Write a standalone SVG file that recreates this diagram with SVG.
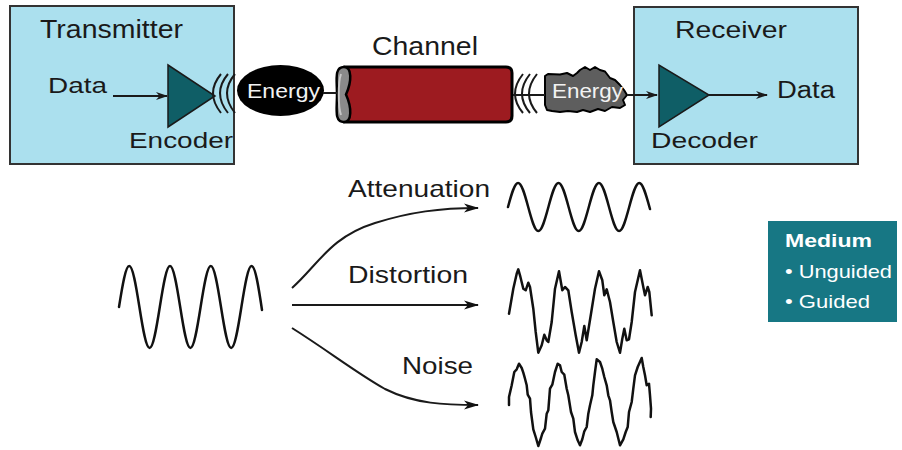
<svg xmlns="http://www.w3.org/2000/svg" width="902" height="450" viewBox="0 0 902 450">
  <defs>
    <style>
      .lbl { font-family: "Liberation Sans", Arial, sans-serif; fill: #1a1a1a; }
      .box { fill: #abe0ee; stroke: #333333; stroke-width: 2; }
      .amp { fill: #0f5e66; stroke: #1a1a1a; stroke-width: 1.5; }
      .wire { fill: none; stroke: #1a1a1a; stroke-width: 2; }
      .arc { fill: none; stroke: #1a1a1a; stroke-width: 2; }
      .wave { fill: none; stroke: #111111; stroke-width: 2.5; stroke-linejoin: round; stroke-linecap: round; }
      .energy { font-family: "Liberation Sans", Arial, sans-serif; fill: #f2f2f2; font-size: 21px; }
      .medium { font-family: "Liberation Sans", Arial, sans-serif; fill: #ffffff; font-size: 18.5px; }
    </style>
    <marker id="arrow" markerWidth="12" markerHeight="10" refX="11" refY="5" orient="auto" markerUnits="userSpaceOnUse">
      <path d="M0,1 L12,5 L0,9 L3.5,5 Z" fill="#1a1a1a"/>
    </marker>
    <marker id="arrowBig" markerWidth="15" markerHeight="10" refX="14" refY="5" orient="auto" markerUnits="userSpaceOnUse">
      <path d="M0,0.5 L15,5 L0,9.5 L4,5 Z" fill="#111111"/>
    </marker>
  </defs>

  <!-- transmitter -->
  <g id="transmitter">
    <rect class="box" x="10" y="6" width="224" height="158"/>
    <text class="lbl" x="40" y="38" font-size="25" textLength="143" lengthAdjust="spacingAndGlyphs">Transmitter</text>
    <text class="lbl" x="48" y="93" font-size="22" textLength="59" lengthAdjust="spacingAndGlyphs">Data</text>
  </g>

  <!-- receiver -->
  <g id="receiver">
    <rect class="box" x="634" y="7" width="224" height="157"/>
    <text class="lbl" x="675" y="38" font-size="24" textLength="112" lengthAdjust="spacingAndGlyphs">Receiver</text>
    <text class="lbl" x="777" y="98" font-size="23" textLength="58" lengthAdjust="spacingAndGlyphs">Data</text>
  </g>

  <g id="encoder">
    <polygon class="amp" points="168,65 168,127 215,96"/>
    <text class="lbl" x="129" y="148" font-size="22" textLength="104" lengthAdjust="spacingAndGlyphs">Encoder</text>
  </g>

  <!-- radiating waves after encoder -->
  <g id="tx-waves">
    <path class="arc" d="M221,74 Q205,93 221,113"/>
    <path class="arc" d="M228,74 Q212,93 228,113"/>
    <path class="arc" d="M235,74 Q219,93 235,113"/>
  </g>

  <g id="energy-out">
    <ellipse cx="280.5" cy="90.5" rx="43.5" ry="25.5" fill="#000000"/>
    <text class="energy" x="247" y="98" textLength="73" lengthAdjust="spacingAndGlyphs">Energy</text>
  </g>

  <!-- channel cylinder -->
  <g id="channel">
    <text class="lbl" x="372" y="55" font-size="25" textLength="106" lengthAdjust="spacingAndGlyphs">Channel</text>
    <path d="M344,67 L506,67 Q512,67 512,73 L512,116 Q512,122 506,122 L344,122 Z" fill="#9d1b20" stroke="#000000" stroke-width="3" stroke-linejoin="round"/>
    <path d="M344,67 C334,67 337,80 337,94.5 C337,109 334,122 344,122 C352,122 352,108 346,94.5 C352,81 352,67 344,67 Z" fill="#8a8a8a" stroke="#000000" stroke-width="2.5"/>
    <path d="M341,74 C338,82 338,107 341,115" fill="none" stroke="#c8c8c8" stroke-width="2"/>
  </g>

  <!-- radiating waves after channel -->
  <g id="rx-waves">
    <path class="arc" d="M523,74 Q507,94 523,113"/>
    <path class="arc" d="M530,74 Q514,94 530,113"/>
    <path class="arc" d="M537,74 Q521,94 537,113"/>
  </g>

  <g id="energy-in">
    <path d="M545,76 L548,74 L560,74.5 L567,73 L573,76 L577,73 L580,70 L585,67 L590,70 L595,67 L600,70 L605,71.5 L610,78 L615,80 L620,85 L624,90 L627,95 L623,100 L625,105 L620,108 L612,107 L605,111 L598,109 L590,112 L583,110 L577,112 L568,111 L560,112 L552,111 L547,110 L545,105 Z" fill="#5e5e5e" stroke="#000000" stroke-width="2" stroke-linejoin="round"/>
    <text class="energy" x="552" y="98" textLength="71" lengthAdjust="spacingAndGlyphs" fill="#e6e6e6">Energy</text>
  </g>

  <g id="decoder">
    <polygon class="amp" points="659,65 659,127 709,95"/>
    <text class="lbl" x="651" y="148" font-size="22" textLength="107" lengthAdjust="spacingAndGlyphs">Decoder</text>
  </g>

  <!-- original signal -->
  <g id="signal-in">
    <path class="wave" d="M119,307 C122.4,285.5 125.6,266 129.2,266 S136,285.5 139.4,307 S146,348 149.6,348 S156.4,328.5 159.8,307 S166.4,266 170,266 S176.8,285.5 180.2,307 S186.8,348 190.4,348 S197.2,328.5 200.6,307 S207.2,266 210.8,266 S217.6,285.5 221,307 S227.6,348 231.2,348 S238,328.5 241.4,307 S248,266 251.6,266 S258.4,285.5 262,310"/>
  </g>

  <!-- impairment labels -->
  <g id="impairments">
    <text class="lbl" x="348" y="197" font-size="24" textLength="142" lengthAdjust="spacingAndGlyphs">Attenuation</text>
    <text class="lbl" x="348" y="283" font-size="24" textLength="120" lengthAdjust="spacingAndGlyphs">Distortion</text>
    <text class="lbl" x="402" y="374" font-size="24" textLength="71" lengthAdjust="spacingAndGlyphs">Noise</text>
  </g>

  <!-- attenuated signal -->
  <g id="signal-attenuated">
    <path class="wave" d="M508,207 C511.4,194.4 514.5,183 518.1,183 S524.8,194.4 528.2,207 S534.7,231 538.3,231 S545,219.6 548.4,207 S554.9,183 558.5,183 S565.2,194.4 568.6,207 S575.1,231 578.7,231 S585.4,219.6 588.8,207 S595.3,183 598.9,183 S605.6,194.4 609,207 S615.5,231 619.1,231 S625.8,219.6 629.2,207 S635.7,183 639.3,183 S646,194.4 650,209"/>
  </g>

  <!-- distorted signal -->
  <g id="signal-distorted">
    <polyline class="wave" points="509,313.7 513.3,288.7 516.7,273.7 518.3,269.3 520,275.3 523.3,288.7 525.7,290.3 528.3,282.7 530,287 533.3,308.7 535.7,332 538.3,352.7 541.7,345.3 544.3,334.7 546.7,340.3 548.3,342 551.7,322 555,288.7 559,271.3 562.3,290.3 565,287 568.3,290.3 571.7,312 575.7,335.3 579,352.7 581.7,342 584.3,326 586.7,340.3 591,313.7 595,288.7 599,271.3 602.3,280.3 604.3,295.3 606.7,289.3 610,302 613.3,322 616.7,342 620,352.7 622.3,338.7 624.3,328.7 626.7,340.3 629,339.3 631.7,322 635,292 640,270.3 643.3,287 645,295.3 647.7,287 649.3,292 651.7,315.3"/>
  </g>

  <!-- noisy signal -->
  <g id="signal-noisy">
    <polyline class="wave" points="509,405 509,397 511.7,385.3 514.3,372 516.7,369.3 519,363.7 521.7,368 523.3,372.7 525,378.7 526.7,385.3 527.7,394.7 530,398.7 531,412 533.3,429.3 535.7,437 538.3,446 541,438 542.3,433.7 545,428.7 546.7,413.7 548.3,410.3 550,388.7 552.3,384.7 555,372 557.7,363.7 560,365.3 561.7,372 564.3,374.7 566.7,388.7 568.3,395.3 571,412 573.3,418.7 575,432 577.7,440.3 580,445.3 582.3,439.3 584.3,431.3 586.7,427 588.3,413.7 590,405.3 592.3,395.3 593.3,385.3 595,372 596.7,359.3 600,362 602.3,368.7 604.3,377 606.7,385.3 608.3,395.3 610,400.3 611.7,412 613.3,422 616.7,432 620,445.3 623.3,439.3 625.7,432 627.7,427 629,412 631.7,402 633.3,388.7 635,375.3 637.7,367 641.7,358 643.3,367 645,375.3 646.7,385.3 649,383.7 650,395.3 651,408.7 650.7,417"/>
  </g>

  <!-- medium legend -->
  <g id="medium">
    <rect x="768" y="221" width="129" height="101" fill="#177784"/>
    <text class="medium" x="785" y="247" font-weight="bold" textLength="87" lengthAdjust="spacingAndGlyphs">Medium</text>
    <text class="medium" x="785" y="278" textLength="107" lengthAdjust="spacingAndGlyphs">• Unguided</text>
    <text class="medium" x="785" y="308" textLength="85" lengthAdjust="spacingAndGlyphs">• Guided</text>
  </g>

  <!-- connectors, drawn over the boxes -->
  <g id="connectors">
    <line class="wire" x1="113" y1="96" x2="167" y2="96" marker-end="url(#arrow)"/>
    <line class="wire" x1="323" y1="93" x2="337" y2="93" stroke-width="1.5"/>
    <line class="wire" x1="513" y1="95" x2="545" y2="95" stroke-width="1.5"/>
    <line class="wire" x1="627" y1="95" x2="657" y2="95" marker-end="url(#arrow)"/>
    <line class="wire" x1="709" y1="95" x2="767" y2="95" marker-end="url(#arrow)"/>
    <path class="wire" d="M292,288 C318,265 330,237 375,223 C410,212 440,208 478,208" marker-end="url(#arrowBig)"/>
    <line class="wire" x1="292" y1="305" x2="478" y2="305" marker-end="url(#arrowBig)"/>
    <path class="wire" d="M292,328 C330,352 355,372 385,389 C415,404 445,405 478,405" marker-end="url(#arrowBig)"/>
  </g>
</svg>
